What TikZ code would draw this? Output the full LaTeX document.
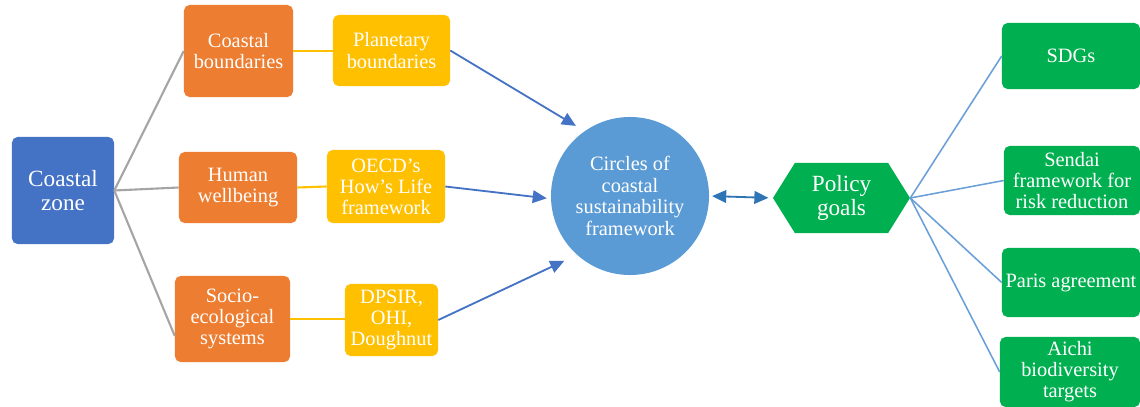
\documentclass[tikz,border=0pt]{standalone}
\usepackage{fontspec}
\setmainfont{Liberation Serif}
\usetikzlibrary{arrows.meta,shapes.symbols}
\definecolor{zoneblue}{HTML}{4472C4}
\definecolor{boxorange}{HTML}{ED7D31}
\definecolor{boxyellow}{HTML}{FFC000}
\definecolor{circblue}{HTML}{5B9BD5}
\definecolor{goalgreen}{HTML}{00B050}
\definecolor{linkgray}{HTML}{A5A5A5}
\definecolor{linkblue}{HTML}{6A9FD8}
\definecolor{arrowblue}{HTML}{4472C4}
\definecolor{dblblue}{HTML}{2E75B6}

\begin{document}
\begin{tikzpicture}[x=0.025cm,y=-0.025cm,
    box/.style={rounded corners=4pt,inner sep=0pt,align=center,text=white,
        font=\fontsize{14.5}{15}\selectfont},
    orangebox/.style={box,fill=boxorange},
    yellowbox/.style={box,fill=boxyellow},
    goalbox/.style={box,fill=goalgreen},
    graylink/.style={draw=linkgray,line width=1.5pt},
    yellowlink/.style={draw=boxyellow,line width=1.5pt},
    bluelink/.style={draw=linkblue,line width=1.1pt},
    feed/.style={draw=arrowblue,line width=1.3pt,-{Triangle[length=10pt,width=9pt]}}]
            \useasboundingbox[fill=white] (0,0) rectangle (1140,407);
            \node[box,fill=zoneblue,minimum width=2.55cm,minimum height=2.675cm,
                font=\fontsize{16.5}{17.5}\selectfont] (zone) at (63,190.5) {Coastal\\zone};
            \node[orangebox,minimum width=2.725cm,minimum height=2.3cm] (cb) at (238.5,51) {Coastal\\boundaries};
            \node[orangebox,minimum width=2.95cm,minimum height=1.775cm] (hw) at (238,187.5) {Human\\wellbeing};
            \node[orangebox,minimum width=2.875cm,minimum height=2.15cm] (se) at (232.5,319) {Socio-\\ecological\\systems};
            \node[yellowbox,minimum width=2.925cm,minimum height=1.775cm] (pb) at (391.5,50.5) {Planetary\\boundaries};
            \node[yellowbox,minimum width=2.95cm,minimum height=1.825cm] (oecd) at (386,186.5) {OECD's\\How's Life\\framework};
            \node[yellowbox,minimum width=2.325cm,minimum height=1.8cm] (dpsir) at (391.5,320) {DPSIR,\\OHI,\\Doughnut};
            \node[circle,fill=circblue,minimum size=3.95cm,inner sep=0pt,align=center,text=white,
                font=\fontsize{14.5}{15.5}\selectfont] (circ) at (630,196) {Circles of\\coastal\\sustainability\\framework};
            \node[signal,signal to=east and west,signal pointer angle=116,fill=goalgreen,
                minimum width=3.425cm,minimum height=1.75cm,inner sep=0pt,align=center,text=white,
                font=\fontsize{16.5}{17}\selectfont] (policy) at (841.5,198) {Policy\\goals};
            \node[goalbox,minimum width=3.45cm,minimum height=1.65cm] (sdg) at (1071,56) {SDGs};
            \node[goalbox,minimum width=3.4cm,minimum height=1.725cm] (sendai) at (1072,180.5) {Sendai\\framework for\\risk reduction};
            \node[goalbox,minimum width=3.45cm,minimum height=1.725cm] (paris) at (1071,282.5) {Paris agreement};
            \node[goalbox,minimum width=3.5cm,minimum height=1.75cm] (aichi) at (1070,372) {Aichi\\biodiversity\\targets};
            \draw[graylink] (zone.east) -- (cb.west);
            \draw[graylink] (zone.east) -- (hw.west);
            \draw[graylink] (zone.east) -- ([yshift=-12]se.west);
            \draw[yellowlink] (cb.east) -- (cb.east -| pb.west);
            \draw[yellowlink] (hw.east) -- (oecd.west);
            \draw[yellowlink] (se.east) -- (se.east -| dpsir.west);
            \draw[feed,shorten >=0.25cm] (pb.east) -- (circ.125);
            \draw[feed,shorten >=0.1cm] (oecd.east) -- (circ.182);
            \draw[feed,shorten >=0.35cm] (dpsir.east) -- (circ.228);
            \draw[draw=dblblue,line width=1.3pt,{Triangle[length=10pt,width=9pt]}-{Triangle[length=10pt,width=9pt]},
                shorten <=2pt,shorten >=3pt] (circ.east) -- (policy.west);
            \draw[bluelink] (policy.east) -- (sdg.west);
            \draw[bluelink] (policy.east) -- (sendai.west);
            \draw[bluelink] (policy.east) -- (paris.west);
            \draw[bluelink] (policy.east) -- (aichi.west);
        \end{tikzpicture}
\end{document}
